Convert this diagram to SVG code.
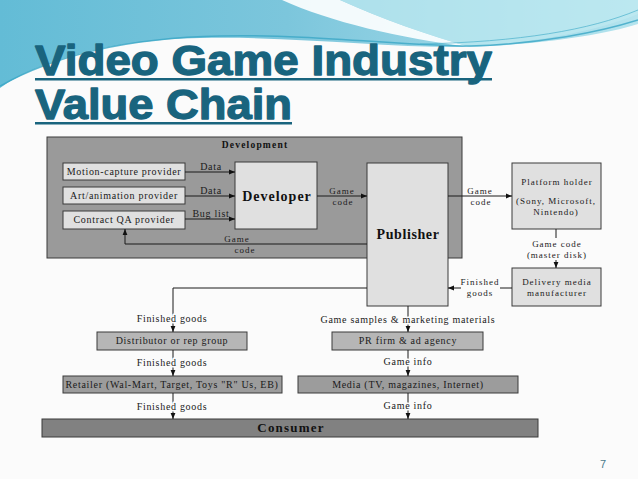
<svg xmlns="http://www.w3.org/2000/svg" width="638" height="479" viewBox="0 0 638 479">
<defs>
<linearGradient id="sky" x1="0" y1="0" x2="1" y2="0">
<stop offset="0" stop-color="#63bcd6"/>
<stop offset="0.45" stop-color="#7cc6dc"/>
<stop offset="1" stop-color="#b5e4ee"/>
</linearGradient>
<marker id="ah" viewBox="0 0 10 10" refX="10" refY="5" markerWidth="6" markerHeight="6" orient="auto" markerUnits="userSpaceOnUse">
<path d="M0,1 L10,5 L0,9 Z" fill="#111"/>
</marker>
<style>
.title{font-family:"Liberation Sans",Arial,sans-serif;font-weight:bold;font-size:43px;fill:#19647e;stroke:#19647e;stroke-width:1.3px;stroke-linejoin:round}
.t{font-family:"Liberation Serif","Times New Roman","DejaVu Serif",serif;font-size:10px;fill:#1a1a1a;letter-spacing:0.7px;text-anchor:middle}
.s{font-size:9px;letter-spacing:1px}
.w{stroke:#fbfbfb;stroke-width:3px;paint-order:stroke;stroke-linejoin:round}
.b{font-family:"Liberation Serif","Times New Roman","DejaVu Serif",serif;font-weight:bold;fill:#111;text-anchor:middle}
.box{stroke:#3a3a3a;stroke-width:1}
.lt{fill:#e0e0e0}
.md{fill:#b6b6b6}
.dk{fill:#9c9c9c}
.ln{fill:none;stroke:#1a1a1a;stroke-width:1}
</style>
</defs>
<rect width="638" height="479" fill="#fbfbfb"/>
<!-- top decoration -->
<path d="M0,0 H638 V24 C600,36 540,44 470,47 C380,48 300,36 200,38 C110,40 40,60 0,88 Z" fill="url(#sky)"/>
<path d="M282,0 C330,22 400,38 470,47 C430,36 380,18 340,0 Z" fill="#ffffff" opacity="0.9"/>
<path d="M340,0 C380,18 430,36 470,47 C540,42 600,30 638,14 V0 Z" fill="#bfe9f1" opacity="0.7"/>
<path d="M0,86 C50,58 120,38 220,36 C320,34 400,46 470,46 C540,44 600,32 638,20" fill="none" stroke="#3aa6c6" stroke-width="1.5" opacity="0.8"/>
<path d="M420,44 C520,42 590,30 638,10" fill="none" stroke="#4ab0cc" stroke-width="1" opacity="0.7"/>

<!-- title -->
<g id="title">
<text class="title" x="35" y="75" textLength="457" lengthAdjust="spacingAndGlyphs">Video Game Industry</text>
<rect x="35" y="78" width="457" height="2.5" fill="#19647e"/>
<text class="title" x="35" y="119" textLength="257" lengthAdjust="spacingAndGlyphs">Value Chain</text>
<rect x="35" y="122" width="257" height="2.5" fill="#19647e"/>
</g>

<!-- development area -->
<g id="development">
<rect x="47" y="137" width="415" height="121" fill="#9a9a9a" class="box"/>
<text class="b" x="255" y="148" font-size="9.5" letter-spacing="1.2">Development</text>
</g>

<g id="motion-capture">
<rect x="63" y="163" width="122" height="17" class="box lt"/>
<text class="t" x="124" y="175">Motion-capture provider</text>
</g>
<g id="art-animation">
<rect x="63" y="187" width="122" height="17" class="box lt"/>
<text class="t" x="124" y="199">Art/animation provider</text>
</g>
<g id="contract-qa">
<rect x="63" y="211" width="122" height="18" class="box lt"/>
<text class="t" x="124" y="223">Contract QA provider</text>
</g>
<g id="developer">
<rect x="235" y="162" width="82" height="67" class="box lt"/>
<text class="b" x="277" y="201" font-size="14" letter-spacing="1">Developer</text>
</g>
<g id="publisher">
<rect x="367" y="163" width="81" height="143" class="box lt"/>
<text class="b" x="408" y="239" font-size="14" letter-spacing="0.6">Publisher</text>
</g>
<g id="platform-holder">
<rect x="512" y="163" width="89" height="66" class="box lt"/>
<text class="t s" x="557" y="185">Platform holder</text>
<text class="t s" x="556" y="203.5">(Sony, Microsoft,</text>
<text class="t s" x="556" y="214.5">Nintendo)</text>
</g>
<g id="delivery-media">
<rect x="512" y="268" width="89" height="38" class="box lt"/>
<text class="t s" x="557" y="285">Delivery media</text>
<text class="t s" x="557" y="296">manufacturer</text>
</g>
<g id="distributor">
<rect x="97" y="332" width="150" height="18" class="box md"/>
<text class="t" x="172" y="344">Distributor or rep group</text>
</g>
<g id="pr-firm">
<rect x="332" y="332" width="151" height="18" class="box md"/>
<text class="t" x="408" y="344">PR firm &amp; ad agency</text>
</g>
<g id="retailer">
<rect x="63" y="376" width="219" height="17" class="box dk"/>
<text class="t" x="172" y="388">Retailer (Wal-Mart, Target, Toys "R" Us, EB)</text>
</g>
<g id="media">
<rect x="298" y="376" width="220" height="17" class="box dk"/>
<text class="t" x="408" y="388">Media (TV, magazines, Internet)</text>
</g>
<g id="consumer">
<rect x="42" y="419" width="496" height="18" class="box" fill="#818181"/>
<text class="b" x="291" y="432" font-size="13" letter-spacing="1.2">Consumer</text>
</g>

<!-- connectors -->
<g id="connectors">
<path class="ln" d="M185,172 H235" marker-end="url(#ah)"/>
<path class="ln" d="M185,196 H235" marker-end="url(#ah)"/>
<path class="ln" d="M185,219 H235" marker-end="url(#ah)"/>
<path class="ln" d="M317,196 H367" marker-end="url(#ah)"/>
<path class="ln" d="M367,244 H125 V229" marker-end="url(#ah)"/>
<path class="ln" d="M448,196 H512" marker-end="url(#ah)"/>
<path class="ln" d="M556,229 V238"/>
<path class="ln" d="M556,260 V268" marker-end="url(#ah)"/>
<path class="ln" d="M512,288 H500"/>
<path class="ln" d="M461,288 H448" marker-end="url(#ah)"/>
<path class="ln" d="M367,288 H173 V332" marker-end="url(#ah)"/>
<path class="ln" d="M173,350 V376" marker-end="url(#ah)"/>
<path class="ln" d="M173,393 V419" marker-end="url(#ah)"/>
<path class="ln" d="M408,306 V332" marker-end="url(#ah)"/>
<path class="ln" d="M408,350 V376" marker-end="url(#ah)"/>
<path class="ln" d="M408,393 V419" marker-end="url(#ah)"/>

<text class="t" x="211" y="170">Data</text>
<text class="t" x="211" y="194">Data</text>
<text class="t" x="211" y="217">Bug list</text>
<text class="t s" x="342" y="193.5">Game</text>
<text class="t s" x="343" y="204.5">code</text>
<text class="t s" x="237" y="242">Game</text>
<text class="t s" x="245" y="253">code</text>
<text class="t s" x="480" y="193.5">Game</text>
<text class="t s" x="481" y="204.5">code</text>
<text class="t s" x="557" y="247">Game code</text>
<text class="t s" x="557" y="258">(master disk)</text>
<text class="t s" x="480" y="285">Finished</text>
<text class="t s" x="480" y="296">goods</text>
<text class="t w" x="172" y="322">Finished goods</text>
<text class="t w" x="172" y="366">Finished goods</text>
<text class="t w" x="172" y="410">Finished goods</text>
<text class="t w" x="408" y="323">Game samples &amp; marketing materials</text>
<text class="t w" x="408" y="365">Game info</text>
<text class="t w" x="408" y="409">Game info</text>
</g>

<text x="603" y="468" font-family="Liberation Sans,Arial,sans-serif" font-size="11" fill="#4a7a8c" text-anchor="middle">7</text>
</svg>
